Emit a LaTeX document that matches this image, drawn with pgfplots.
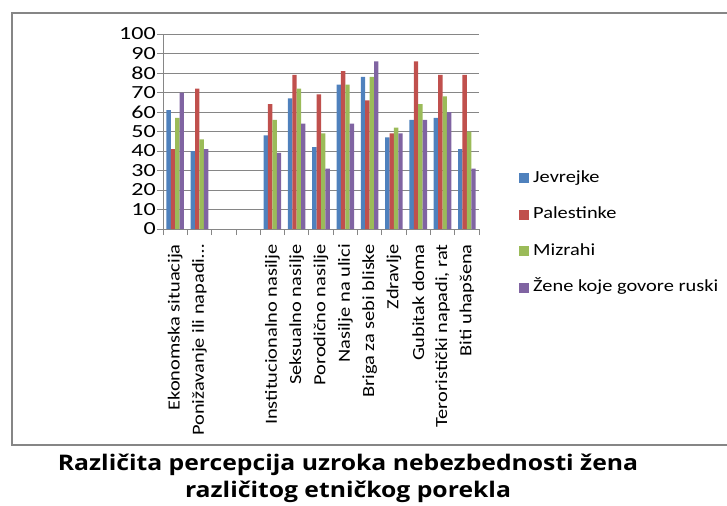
\documentclass[border=0pt]{standalone}
\usepackage{fontspec}
\setmainfont{Carlito}
\newfontfamily\labelfont{Carlito}[FakeStretch=1.2]
\newfontfamily\tickfont{Carlito}[FakeStretch=1.3]
\newfontfamily\titlefont{Open Sans}[FakeStretch=1.15]
\usepackage{pgfplots}
\pgfplotsset{compat=1.18}
\usepackage{pgfplotstable}
\definecolor{cBlue}{HTML}{4F81BD}
\definecolor{cRed}{HTML}{C0504D}
\definecolor{cGreen}{HTML}{9BBB59}
\definecolor{cPurple}{HTML}{8064A2}
\definecolor{cGrid}{HTML}{868686}
\pgfplotstableread{
x J P M R
0 61 41 57 70
1 40 72 46 41
4 48 64 56 39
5 67 79 72 54
6 42 69 49 31
7 74 81 74 54
8 78 66 78 86
9 47 49 52 49
10 56 86 64 56
11 57 79 68 60
12 41 79 50 31
}\datatable
\begin{document}
\begin{tikzpicture}
\path[use as bounding box] (0bp,0bp) rectangle (727bp,-506bp);
\draw[color=cGrid, line width=1.2bp] (12bp,-13bp) rectangle (745bp,-445bp);
\begin{axis}[
  at={(163bp,-229bp)}, anchor=south west,
  scale only axis, width=316bp, height=195bp,
  xmin=-0.5, xmax=12.5, ymin=0, ymax=100,
  ybar=0pt, bar width=4.4bp,
  axis lines=left, axis line style={-, draw=cGrid, line width=0.8bp},
  ymajorgrids, grid style={draw=cGrid, line width=0.8bp},
  ytick={0,10,...,100},
  yticklabel={\tickfont\fontsize{18.5bp}{21bp}\selectfont\pgfmathprintnumber[assume math mode=true]{\tick}},
  xtick={0,...,12},
  xticklabels={Ekonomska situacija, Ponižavanje ili napadi…, , , Institucionalno nasilje, Seksualno nasilje, Porodično nasilje, Nasilje na ulici, Briga za sebi bliske, Zdravlje, Gubitak doma, {Teroristički napadi, rat}, Biti uhapšena},
  minor xtick={-0.5,0.5,...,12.5},
  tick align=outside,
  major tick length=6bp, minor tick length=6bp,
  major x tick style={draw=none},
  minor x tick style={draw=cGrid, line width=0.8bp},
  y tick style={draw=cGrid, line width=0.8bp},
  /pgf/number format/assume math mode=true,
  tick label style={text=black},
  yticklabel style={inner sep=2bp, xshift=1bp},
  xticklabel style={font=\labelfont\fontsize{17bp}{20bp}\selectfont, rotate=90, anchor=east, inner xsep=9bp, inner ysep=2bp},
  legend style={draw=none, fill=none, at={(1.117,-0.02)}, anchor=west,
    font=\labelfont\fontsize{17bp}{20bp}\selectfont, row sep=22.5bp,
    nodes={text height=11bp, text depth=3bp, inner ysep=0bp, inner xsep=4bp}},
  legend cell align=left,
]
\addplot[fill=cBlue, draw=none, legend image code/.code={\fill[cBlue] (0bp,-5bp) rectangle (10bp,5bp);}] table[x=x, y=J] {\datatable};
\addplot[fill=cRed, draw=none, legend image code/.code={\fill[cRed] (0bp,-5bp) rectangle (10bp,5bp);}] table[x=x, y=P] {\datatable};
\addplot[fill=cGreen, draw=none, legend image code/.code={\fill[cGreen] (0bp,-5bp) rectangle (10bp,5bp);}] table[x=x, y=M] {\datatable};
\addplot[fill=cPurple, draw=none, legend image code/.code={\fill[cPurple] (0bp,-5bp) rectangle (10bp,5bp);}] table[x=x, y=R] {\datatable};
\legend{Jevrejke, Palestinke, Mizrahi, Žene koje govore ruski}
\end{axis}
\node[font=\titlefont\bfseries\fontsize{21.5bp}{27bp}\selectfont, align=center] at (348bp,-478bp) {Različita percepcija uzroka nebezbednosti žena\\različitog etničkog porekla};
\end{tikzpicture}
\end{document}
